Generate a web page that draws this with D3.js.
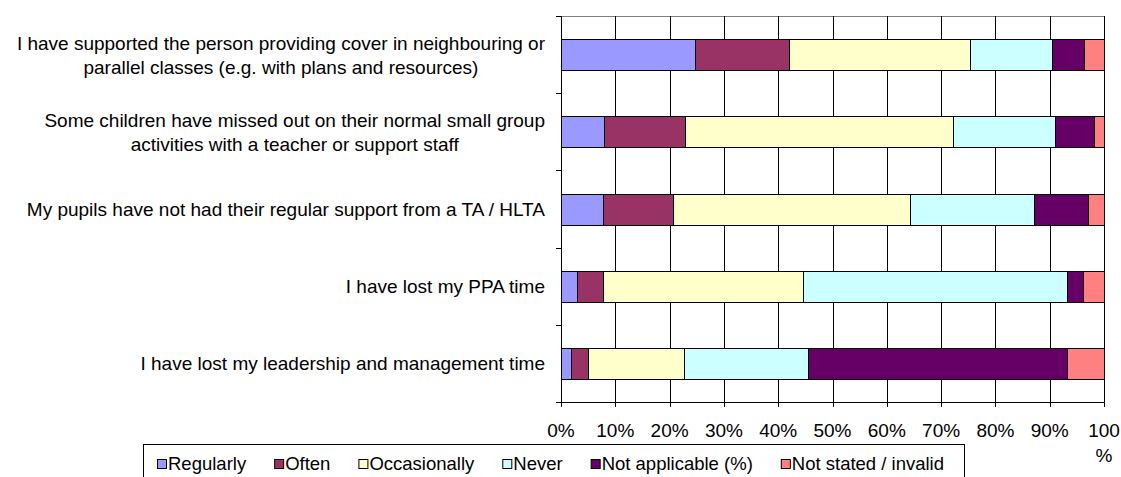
<!DOCTYPE html>
<html>
<head>
<meta charset="utf-8">
<script src="https://cdn.jsdelivr.net/npm/d3@7"></script>
<style>
  body { margin: 0; background: #fff; }
  text { font-family: 'Liberation Sans', Arial, sans-serif; fill: #000; }
</style>
</head>
<body>
<div id="chart"></div>
<script>
// categories, top to bottom
const categories = [
  'I have supported the person providing cover in neighbouring or parallel classes (e.g. with plans and resources)',
  'Some children have missed out on their normal small group activities with a teacher or support staff',
  'My pupils have not had their regular support from a TA / HLTA',
  'I have lost my PPA time',
  'I have lost my leadership and management time'
]
const categoryLines = [
  ['I have supported the person providing cover in neighbouring or', 'parallel classes (e.g. with plans and resources)'],
  ['Some children have missed out on their normal small group', 'activities with a teacher or support staff'],
  ['My pupils have not had their regular support from a TA / HLTA'],
  ['I have lost my PPA time'],
  ['I have lost my leadership and management time']
]

const seriesNames = ['Regularly', 'Often', 'Occasionally', 'Never', 'Not applicable (%)', 'Not stated / invalid']
const seriesColors = ['#9999FF', '#993366', '#FFFFCC', '#CCFFFF', '#660066', '#FF8080']

const regularly = [24.7, 7.9, 7.8, 2.9, 1.9]
const often = [17.2, 15.0, 12.9, 4.9, 3.1]
const occasionally = [33.4, 49.2, 43.6, 36.7, 17.7]
const never = [15.2, 18.9, 22.8, 48.6, 22.7]
const notApplicable = [5.8, 7.1, 10.0, 3.0, 47.7]
const notStated = [3.7, 1.9, 2.9, 3.9, 6.9]

const tickValues = [0, 10, 20, 30, 40, 50, 60, 70, 80, 90, 100]
const tickLabels = ['0%', '10%', '20%', '30%', '40%', '50%', '60%', '70%', '80%', '90%', '100\n%']

const width = 1121
const height = 477
const plot = { left: 561, right: 1104, top: 16, bottom: 402 }

const svg = d3
  .select('#chart')
  .append('svg')
  .attr('width', width)
  .attr('height', height)
  .style('display', 'block')

svg.append('rect').attr('width', width).attr('height', height).attr('fill', '#fff')

const xPositionScale = d3.scaleLinear().domain([0, 100]).range([plot.left, plot.right])
const yPositionScale = d3
  .scaleBand()
  .domain(categories)
  .range([plot.top, plot.bottom])
  .paddingInner(0.6)
  .paddingOuter(0.3)

// table for the stack
const table = categories.map((c, i) => ({
  category: c,
  Regularly: regularly[i],
  Often: often[i],
  Occasionally: occasionally[i],
  Never: never[i],
  'Not applicable (%)': notApplicable[i],
  'Not stated / invalid': notStated[i]
}))
const stacked = d3.stack().keys(seriesNames)(table)

// plot border (top / right) and vertical gridlines
svg
  .append('rect')
  .attr('x', plot.left + 0.5)
  .attr('y', plot.top + 0.5)
  .attr('width', plot.right - plot.left)
  .attr('height', plot.bottom - plot.top)
  .attr('fill', 'none')
  .attr('stroke', '#808080')

svg
  .append('g')
  .selectAll('line')
  .data(tickValues.slice(1))
  .enter()
  .append('line')
  .attr('x1', d => Math.round(xPositionScale(d)) + 0.5)
  .attr('x2', d => Math.round(xPositionScale(d)) + 0.5)
  .attr('y1', plot.top)
  .attr('y2', plot.bottom)
  .attr('stroke', '#000')

// bars
svg
  .append('g')
  .selectAll('g')
  .data(stacked)
  .enter()
  .append('g')
  .attr('fill', (d, i) => seriesColors[i])
  .selectAll('rect')
  .data(d => d)
  .enter()
  .append('rect')
  .attr('x', d => Math.round(xPositionScale(d[0])) + 0.5)
  .attr('y', d => Math.round(yPositionScale(d.data.category)) + 0.5)
  .attr('width', d => Math.round(xPositionScale(d[1])) - Math.round(xPositionScale(d[0])))
  .attr('height', Math.round(yPositionScale.bandwidth()))
  .attr('stroke', '#000')
  .attr('stroke-width', 1)

// y axis with ticks at band boundaries
const step = yPositionScale.step()
const yBounds = d3.range(categories.length + 1).map(i => plot.top + i * step)
const yAxis = svg.append('g')
yAxis
  .append('line')
  .attr('x1', plot.left + 0.5)
  .attr('x2', plot.left + 0.5)
  .attr('y1', plot.top)
  .attr('y2', plot.bottom)
  .attr('stroke', '#000')
yAxis
  .selectAll('.ytick')
  .data(yBounds)
  .enter()
  .append('line')
  .attr('class', 'ytick')
  .attr('x1', plot.left - 5)
  .attr('x2', plot.left)
  .attr('y1', d => Math.round(d) + 0.5)
  .attr('y2', d => Math.round(d) + 0.5)
  .attr('stroke', '#000')

// category labels
const labels = yAxis
  .selectAll('.ylabel')
  .data(categories)
  .enter()
  .append('text')
  .attr('class', 'ylabel')
  .attr('font-size', 19)
  .attr('text-anchor', 'middle')

labels.each(function(d, i) {
  const lines = categoryLines[i]
  const cy = yPositionScale(d) + yPositionScale.bandwidth() / 2
  const el = d3.select(this)
  lines.forEach(line => {
    el.append('tspan').text(line)
  })
  // right align the whole block, center lines within it
  const widths = []
  el.selectAll('tspan').each(function() { widths.push(this.getComputedTextLength()) })
  const blockW = d3.max(widths)
  const right = 545
  const cx = right - blockW / 2
  el.selectAll('tspan')
    .attr('x', cx)
    .attr('y', (t, j) => lines.length === 1 ? cy + 6.5 : cy - 5 + j * 24.5)
})

// x axis
const xAxis = svg.append('g')
xAxis
  .append('line')
  .attr('x1', plot.left)
  .attr('x2', plot.right)
  .attr('y1', plot.bottom + 0.5)
  .attr('y2', plot.bottom + 0.5)
  .attr('stroke', '#000')
xAxis
  .selectAll('.xtick')
  .data(tickValues)
  .enter()
  .append('line')
  .attr('x1', d => Math.round(xPositionScale(d)) + 0.5)
  .attr('x2', d => Math.round(xPositionScale(d)) + 0.5)
  .attr('y1', plot.bottom)
  .attr('y2', plot.bottom + 5)
  .attr('stroke', '#000')
xAxis
  .selectAll('.xlabel')
  .data(tickValues)
  .enter()
  .append('text')
  .attr('font-size', 19)
  .attr('text-anchor', 'middle')
  .each(function(d, i) {
    const parts = tickLabels[i].split('\n')
    d3.select(this)
      .selectAll('tspan')
      .data(parts)
      .enter()
      .append('tspan')
      .attr('x', xPositionScale(d))
      .attr('y', (p, j) => 437 + j * 25)
      .text(p => p)
  })

// legend
const legend = svg.append('g')
legend
  .append('rect')
  .attr('x', 143.5)
  .attr('y', 444.5)
  .attr('width', 821)
  .attr('height', 40)
  .attr('fill', '#fff')
  .attr('stroke', '#000')

let lx = 157
seriesNames.forEach((name, i) => {
  legend
    .append('rect')
    .attr('x', lx + 0.5)
    .attr('y', 459.5)
    .attr('width', 9)
    .attr('height', 9)
    .attr('fill', seriesColors[i])
    .attr('stroke', '#000')
  const t = legend
    .append('text')
    .attr('x', lx + 11)
    .attr('y', 470)
    .attr('font-size', 18.5)
    .text(name)
  lx += 11 + t.node().getComputedTextLength() + 28
})
</script>
</body>
</html>
